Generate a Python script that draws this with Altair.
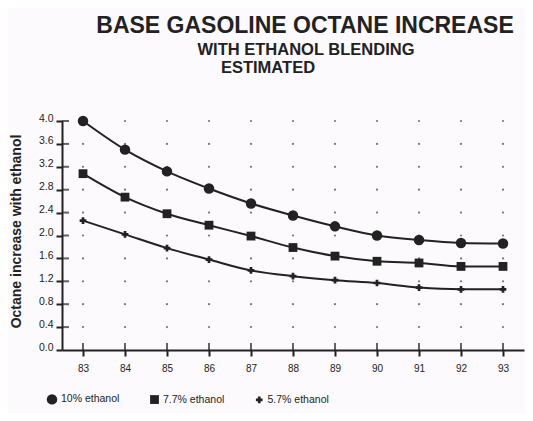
import altair as alt
import pandas as pd

years = [83, 84, 85, 86, 87, 88, 89, 90, 91, 92, 93]
series_names = ["10% ethanol", "7.7% ethanol", "5.7% ethanol"]
s10 = [4.00, 3.50, 3.12, 2.82, 2.56, 2.35, 2.16, 2.00, 1.92, 1.87, 1.86]
s77 = [3.08, 2.67, 2.38, 2.18, 1.99, 1.79, 1.64, 1.55, 1.52, 1.46, 1.46]
s57 = [2.26, 2.02, 1.78, 1.58, 1.39, 1.29, 1.22, 1.17, 1.09, 1.06, 1.06]
y_ticks = [0.0, 0.4, 0.8, 1.2, 1.6, 2.0, 2.4, 2.8, 3.2, 3.6, 4.0]
title_lines = ["BASE GASOLINE OCTANE INCREASE", "WITH ETHANOL BLENDING", "ESTIMATED"]
y_title = "Octane increase with ethanol"

rows = []
for name, vals in zip(series_names, [s10, s77, s57]):
    for yr, v in zip(years, vals):
        rows.append({"year": yr, "value": v, "series": name})
df = pd.DataFrame(rows)

grid = pd.DataFrame([{"year": yr, "value": v} for yr in years for v in y_ticks if v > 0])
xt = pd.DataFrame({"year": years})
yt = pd.DataFrame({"value": y_ticks[1:]})

FONT = "Liberation Sans"
INK = "#222"
xscale = alt.Scale(domain=[82.5, 93.5], nice=False, zero=False)
yscale = alt.Scale(domain=[0, 4.0], nice=False)

xaxis = alt.Axis(values=years, format="d", grid=False, domainWidth=2, domainColor=INK,
                 tickColor=INK, tickWidth=2, tickSize=6, labelPadding=7,
                 labelFont=FONT, labelFontSize=10, labelColor=INK, labelOverlap=False,
                 title=None)
yaxis = alt.Axis(values=y_ticks, format=".1f", grid=False, domainWidth=2, domainColor=INK,
                 tickColor=INK, tickWidth=2, tickSize=6, labelPadding=3,
                 labelFont=FONT, labelFontSize=10.5, labelColor=INK, labelOverlap=False,
                 labelBaseline="alphabetic", labelFlush=False,
                 title=y_title, titleFont=FONT, titleFontSize=14, titleFontWeight="bold",
                 titleColor=INK, titleX=-39, titleY=110, titleAngle=270)

X = lambda: alt.X("year:Q", scale=xscale, axis=xaxis)
Y = lambda: alt.Y("value:Q", scale=yscale, axis=yaxis)

dots = alt.Chart(grid).mark_circle(size=5, color="#777", opacity=1).encode(x=X(), y=Y())

# inward halves of the crossing axis ticks
xin = alt.Chart(xt).mark_tick(orient="vertical", size=7, thickness=2, color=INK).encode(
    x=X(), y=alt.value(225.5),
)
yin = alt.Chart(yt).mark_tick(orient="horizontal", size=7, thickness=2, color=INK).encode(
    y=Y(), x=alt.value(3.5),
)

shape_scale = alt.Scale(domain=series_names, range=["circle", "square", "cross"])
size_scale = alt.Scale(domain=series_names, range=[110, 45, 22])
leg = alt.Legend(orient="none", legendX=-16, legendY=272, direction="horizontal",
                 title=None, labelFont=FONT, labelFontSize=10.5, labelColor=INK,
                 columnPadding=27, symbolFillColor=INK, symbolStrokeColor=INK,
                 labelOffset=3)

lines = alt.Chart(df).mark_line(color=INK, strokeWidth=2, interpolate="monotone").encode(
    x=X(), y=Y(), detail="series:N",
)

points = alt.Chart(df).mark_point(filled=True, color=INK, opacity=1).encode(
    x=X(), y=Y(),
    shape=alt.Shape("series:N", scale=shape_scale, sort=series_names, legend=leg),
    size=alt.Size("series:N", scale=size_scale, sort=series_names, legend=leg),
)

tdf = pd.DataFrame({"t": title_lines, "px": [243, 244, 206], "py": [-88, -66, -48],
                    "fs": [23, 16.5, 16.5]})
titles = alt.Chart(tdf).mark_text(font=FONT, fontWeight="bold", color=INK, align="center",
                                  baseline="alphabetic").encode(
    text="t:N",
    x=alt.X("px:Q", scale=None),
    y=alt.Y("py:Q", scale=None),
    size=alt.Size("fs:Q", scale=None, legend=None),
)

chart = alt.layer(dots, xin, yin, lines, points, titles).properties(
    width=462, height=229,
    autosize=alt.AutoSizeParams(type="none"),
    padding={"left": 54, "top": 113, "right": 1, "bottom": 63},
    background="#fcfafc",
).configure_view(stroke=None)

chart.save("out.html", embed_options={"renderer": "svg", "actions": False})
